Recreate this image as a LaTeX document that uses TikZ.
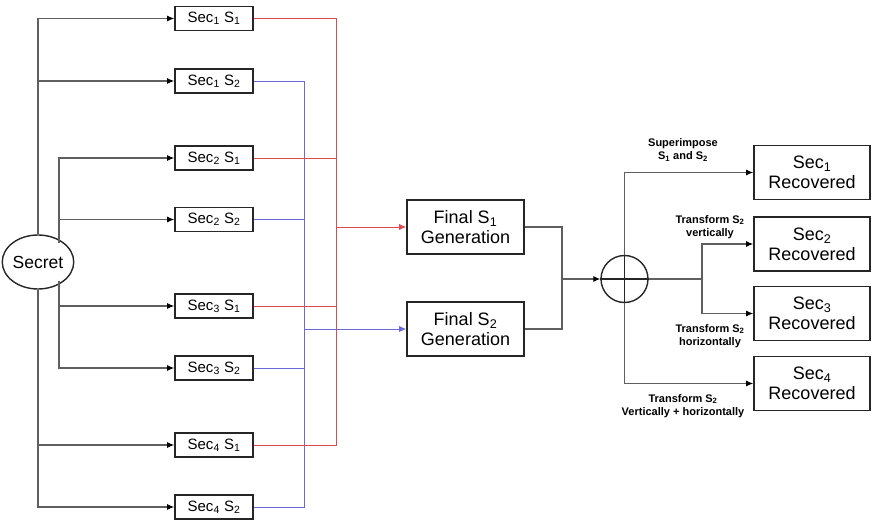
\documentclass[tikz,border=0pt]{standalone}
\usepackage{fontspec}
\setmainfont{Liberation Sans}
\usepackage{tikz}
\usetikzlibrary{arrows.meta,shapes.geometric}

\definecolor{lngray}{RGB}{95,95,95}
\definecolor{shred}{RGB}{222,75,85}
\definecolor{shblue}{RGB}{105,105,215}
\newcommand{\sx}[1]{\textsubscript{#1}}

\begin{document}
\begin{tikzpicture}[x=1pt,y=-1pt,
  secbox/.style={draw=black!85,line width=1.6pt,minimum width=78pt,minimum height=24pt,inner sep=0pt,font=\fontsize{15}{17}\selectfont},
  bigbox/.style={draw=black!85,line width=1.6pt,minimum width=116pt,minimum height=54pt,inner sep=0pt,align=center,font=\fontsize{18}{20}\selectfont},
  lbl/.style={align=center,font=\bfseries\fontsize{11}{13.5}\selectfont},
  ln/.style={draw=lngray,line width=1.1pt},
  arr/.style={ln,-{Latex[length=7pt,width=6pt,color=black]}},
  redln/.style={draw=shred,line width=0.8pt},
  blueln/.style={draw=shblue,line width=0.8pt}]
  \useasboundingbox (0,0) rectangle (874,521);
  % Shares of each secret
  \node[secbox] (s11) at (214,18.5) {Sec\sx{1} S\sx{1}};
  \node[secbox] (s12) at (214,81) {Sec\sx{1} S\sx{2}};
  \node[secbox] (s21) at (214,158) {Sec\sx{2} S\sx{1}};
  \node[secbox] (s22) at (214,219.5) {Sec\sx{2} S\sx{2}};
  \node[secbox] (s31) at (214,306) {Sec\sx{3} S\sx{1}};
  \node[secbox] (s32) at (214,368) {Sec\sx{3} S\sx{2}};
  \node[secbox] (s41) at (214,445) {Sec\sx{4} S\sx{1}};
  \node[secbox] (s42) at (214,507) {Sec\sx{4} S\sx{2}};
  % Secret
  \node[ellipse,draw=black!85,line width=1.4pt,minimum width=60pt,minimum height=54pt,inner sep=0pt,
    font=\fontsize{17.5}{19}\selectfont] (secret) at (38,262) {Secret};
  \coordinate (inup) at (59,243);
  \coordinate (indn) at (59,281);
  \foreach \n in {11,12} \draw[arr] (secret.north) |- (s\n.west);
  \foreach \n in {41,42} \draw[arr] (secret.south) |- (s\n.west);
  \foreach \n in {21,22} \draw[arr] (inup) |- (s\n.west);
  \foreach \n in {31,32} \draw[arr] (indn) |- (s\n.west);
  % Final shares
  \node[bigbox,minimum width=117pt] (fin1) at (465.5,227) {Final S\sx{1}\\Generation};
  \node[bigbox,minimum width=117pt] (fin2) at (465.5,329) {Final S\sx{2}\\Generation};
  \coordinate (bb) at (304,329);
  \coordinate (rb) at (336,227);
  \foreach \n in {12,22,32,42} \draw[blueln] (s\n.east) -| (bb);
  \draw[blueln,-{Latex[length=7pt,width=6pt]}] (bb) -- (fin2.west);
  \foreach \n in {11,21,31,41} \draw[redln] (s\n.east) -| (rb);
  \draw[redln,-{Latex[length=7pt,width=6pt]}] (rb) -- (fin1.west);
  % Superimpose
  \node[circle,draw=black!85,line width=1.4pt,minimum size=47pt,inner sep=0pt] (xor) at (624.5,279) {};
  \draw[draw=black!85,line width=1.4pt] (xor.north) -- (xor.south) (xor.west) -- (xor.east);
  \coordinate (jn) at (562,279);
  \draw[ln] (fin1.east) -| (jn);
  \draw[ln] (fin2.east) -| (jn);
  \draw[arr] (jn) -- (xor.west);
  % Recovered secrets
  \node[bigbox] (rec1) at (812,172.5) {Sec\sx{1}\\Recovered};
  \node[bigbox] (rec2) at (812,244) {Sec\sx{2}\\Recovered};
  \node[bigbox] (rec3) at (812,313.5) {Sec\sx{3}\\Recovered};
  \node[bigbox] (rec4) at (812,383.5) {Sec\sx{4}\\Recovered};
  \coordinate (mid) at (702,279);
  \draw[arr] (xor.north) |- (rec1.west);
  \draw[arr] (xor.south) |- (rec4.west);
  \draw[ln] (xor.east) -- (mid);
  \draw[arr] (mid) |- (rec2.west);
  \draw[arr] (mid) |- (rec3.west);
  % Labels
  \node[lbl] (l1) at (683,150) {Superimpose\\S\sx{1} and S\sx{2}};
  \node[lbl] (l2) at (710,227) {Transform S\sx{2}\\vertically};
  \node[lbl] (l3) at (710,336) {Transform S\sx{2}\\horizontally};
  \node[lbl] (l4) at (683,406) {Transform S\sx{2}\\Vertically + horizontally};
\end{tikzpicture}
\end{document}
